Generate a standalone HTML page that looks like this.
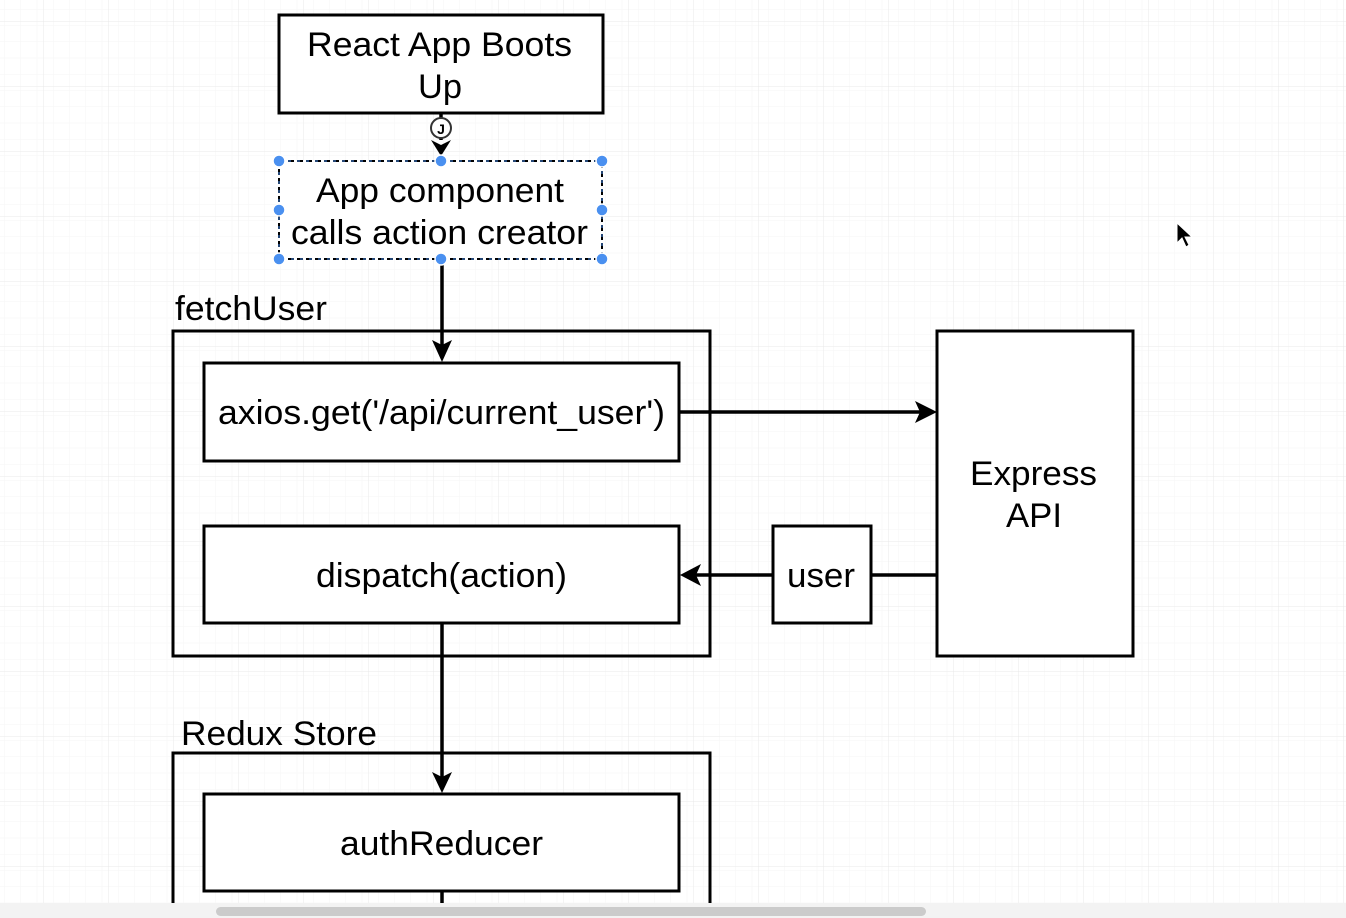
<!DOCTYPE html>
<html><head><meta charset="utf-8"><style>
html,body{margin:0;padding:0;background:#fff;}
svg{display:block;}
text{font-family:"Liberation Sans",Arial,sans-serif;fill:#000;}
</style></head><body>
<svg width="1346" height="918" viewBox="0 0 1346 918" xmlns="http://www.w3.org/2000/svg">
<defs>
<pattern id="minor" x="43" y="21" width="16.25" height="16.25" patternUnits="userSpaceOnUse">
<path d="M16.25 0V16.25H0" fill="none" stroke="#f5f5f5" stroke-width="1"/>
</pattern>
<pattern id="major" x="43" y="21" width="65" height="65" patternUnits="userSpaceOnUse">
<rect width="65" height="65" fill="url(#minor)"/>
<path d="M0 0H65M0 0V65" fill="none" stroke="#e9e9e9" stroke-width="1"/>
</pattern>
</defs>
<rect width="1346" height="918" fill="#fff"/>
<rect width="1346" height="903" fill="url(#major)"/>

<g fill="none" stroke="#000" stroke-width="3">
<rect x="173" y="331" width="537" height="325"/>
<path d="M173 903V753H710V903"/>
</g>
<g fill="#fff" stroke="#000" stroke-width="3">
<rect x="279" y="15" width="324" height="98"/>
<rect x="204" y="363" width="475" height="98"/>
<rect x="204" y="526" width="475" height="97"/>
<rect x="937" y="331" width="196" height="325"/>
<rect x="773" y="526" width="98" height="97"/>
<rect x="204" y="794" width="475" height="97"/>
</g>
<rect x="279" y="161" width="323" height="98" fill="#fff" stroke="#000" stroke-width="2" stroke-dasharray="6 3"/>
<rect x="279" y="161" width="323" height="98" fill="none" stroke="#4a90f0" stroke-width="1" stroke-dasharray="3 6"/>

<g stroke="#000" stroke-width="3.5" fill="none">
<path d="M441 113V140"/>
<path d="M442 259V345"/>
<path d="M679 412H920"/>
<path d="M871 575H937"/>
<path d="M773 575H696"/>
<path d="M442 623V777"/>
<path d="M442 891V903"/>
</g>
<g fill="#000">
<path d="M431 140L441 156L451 140L441 145Z"/>
<path d="M432 340L442 362L452 340L442 345Z"/>
<path d="M915 401L937 412L915 423L920 412Z"/>
<path d="M701 564L680 575L701 586L696 575Z"/>
<path d="M432 772L442 793L452 772L442 777Z"/>
</g>
<circle cx="441" cy="128" r="10" fill="#fff" stroke="#333" stroke-width="2"/>
<text x="441" y="134" font-size="14" text-anchor="middle" font-weight="bold">J</text>

<g fill="#4a90f0" stroke="#fff" stroke-width="1.5">
<circle cx="279" cy="161" r="6"/><circle cx="441" cy="161" r="6"/><circle cx="602" cy="161" r="6"/>
<circle cx="279" cy="210" r="6"/><circle cx="602" cy="210" r="6"/>
<circle cx="279" cy="259" r="6"/><circle cx="441" cy="259" r="6"/><circle cx="602" cy="259" r="6"/>
</g>

<g font-size="34" lengthAdjust="spacingAndGlyphs">
<text x="307" y="56" textLength="265" lengthAdjust="spacingAndGlyphs">React App Boots</text>
<text x="418" y="98" textLength="44" lengthAdjust="spacingAndGlyphs">Up</text>
<text x="316" y="202" textLength="248" lengthAdjust="spacingAndGlyphs">App component</text>
<text x="291" y="244" textLength="297" lengthAdjust="spacingAndGlyphs">calls action creator</text>
<text x="218" y="424" textLength="447" lengthAdjust="spacingAndGlyphs">axios.get('/api/current_user')</text>
<text x="316" y="587" textLength="251" lengthAdjust="spacingAndGlyphs">dispatch(action)</text>
<text x="970" y="485" textLength="127" lengthAdjust="spacingAndGlyphs">Express</text>
<text x="1006" y="527" textLength="56" lengthAdjust="spacingAndGlyphs">API</text>
<text x="787" y="587" textLength="68" lengthAdjust="spacingAndGlyphs">user</text>
<text x="340" y="855" textLength="203" lengthAdjust="spacingAndGlyphs">authReducer</text>
<text x="175" y="320" textLength="152" lengthAdjust="spacingAndGlyphs">fetchUser</text>
<text x="181" y="745" textLength="196" lengthAdjust="spacingAndGlyphs">Redux Store</text>
</g>

<path d="M1177 223V243L1182 238L1186 247L1189 245L1185 237L1192 237Z" fill="#000" stroke="#fff" stroke-width="1"/>

<rect x="0" y="903" width="1346" height="15" fill="#f3f3f3"/>
<rect x="216" y="907" width="710" height="9" rx="4.5" fill="#cbcbcb"/>
</svg>
</body></html>
